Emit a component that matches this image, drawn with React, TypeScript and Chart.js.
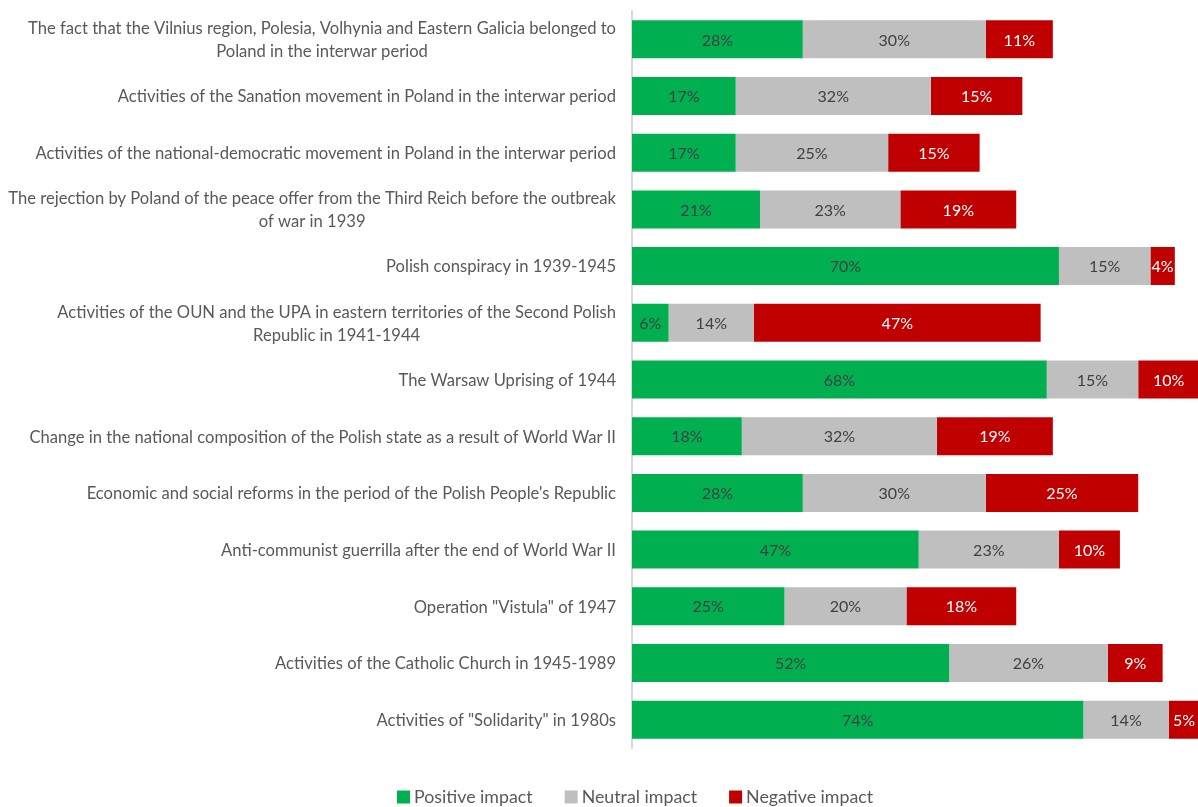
import React, { useEffect, useRef } from "react";
import { Chart, registerables } from "chart.js";

Chart.register(...registerables);

const categories: (string | string[])[] = [
  ["The fact that the Vilnius region, Polesia, Volhynia and Eastern Galicia belonged to", "Poland in the interwar period"],
  "Activities of the Sanation movement in Poland in the interwar period",
  "Activities of the national-democratic movement in Poland in the interwar period",
  ["The rejection by Poland of the peace offer from the Third Reich before the outbreak", "of war in 1939"],
  "Polish conspiracy in 1939-1945",
  ["Activities of the OUN and the UPA in eastern territories of the Second Polish", "Republic in 1941-1944"],
  "The Warsaw Uprising of 1944",
  "Change in the national composition of the Polish state as a result of World War II",
  "Economic and social reforms in the period of the Polish People's Republic",
  "Anti-communist guerrilla after the end of World War II",
  "Operation \"Vistula\" of 1947",
  "Activities of the Catholic Church in 1945-1989",
  "Activities of \"Solidarity\" in 1980s",
];

const positiveImpact = [28, 17, 17, 21, 70, 6, 68, 18, 28, 47, 25, 52, 74];
const neutralImpact = [30, 32, 25, 23, 15, 14, 15, 32, 30, 23, 20, 26, 14];
const negativeImpact = [11, 15, 15, 19, 4, 47, 10, 19, 25, 10, 18, 9, 5];

const seriesNames = ["Positive impact", "Neutral impact", "Negative impact"];
const seriesColors = ["#00B050", "#BFBFBF", "#C00000"];

const FONT = "Lato, 'Open Sans', sans-serif";

const categoryLabelsPlugin = {
  id: "categoryLabels",
  afterDraw(chart: any) {
    const ctx = chart.ctx;
    const yScale = chart.scales.y;
    const rightX = 616;
    const lineHeight = 23;
    ctx.save();
    ctx.font = `16.6px ${FONT}`;
    ctx.fillStyle = "#595959";
    ctx.textBaseline = "middle";
    categories.forEach((label, i) => {
      const y = yScale.getPixelForValue(i) + 1;
      const lines = Array.isArray(label) ? label : [label];
      const widths = lines.map((l) => ctx.measureText(l).width);
      const blockW = Math.max(...widths);
      lines.forEach((line, j) => {
        const ty = y + (j - (lines.length - 1) / 2) * lineHeight;
        if (lines.length === 1) {
          ctx.textAlign = "right";
          ctx.fillText(line, rightX, ty);
        } else {
          ctx.textAlign = "center";
          ctx.fillText(line, rightX - blockW / 2, ty);
        }
      });
    });
    ctx.restore();
  },
};

const valueLabelsPlugin = {
  id: "valueLabels",
  afterDatasetsDraw(chart: any) {
    const ctx = chart.ctx;
    const area = chart.chartArea;
    ctx.save();
    ctx.beginPath();
    ctx.rect(area.left, area.top, area.right - area.left + 20, area.bottom - area.top);
    ctx.clip();
    ctx.font = `16px ${FONT}`;
    ctx.textAlign = "center";
    ctx.textBaseline = "middle";
    chart.data.datasets.forEach((ds: any, di: number) => {
      const meta = chart.getDatasetMeta(di);
      ctx.fillStyle = di === 2 ? "#FFFFFF" : "#404040";
      meta.data.forEach((bar: any, i: number) => {
        const { x, base, y } = bar.getProps(["x", "base", "y"], true);
        const v = ds.data[i];
        ctx.fillText(`${v}%`, (x + base) / 2, y + 1);
      });
    });
    ctx.restore();
  },
};

const customLegendPlugin = {
  id: "customLegend",
  afterDraw(chart: any) {
    const ctx = chart.ctx;
    const y = 797;
    let x = 397;
    ctx.save();
    ctx.font = `17.8px ${FONT}`;
    ctx.textBaseline = "middle";
    ctx.textAlign = "left";
    chart.data.datasets.forEach((ds: any) => {
      ctx.fillStyle = ds.backgroundColor;
      ctx.fillRect(x, y - 6.5, 13, 13);
      ctx.fillStyle = "#595959";
      ctx.fillText(ds.label, x + 17, y);
      x += 17 + ctx.measureText(ds.label).width + 32;
    });
    ctx.restore();
  },
};

export default function App() {
  const canvasRef = useRef<HTMLCanvasElement | null>(null);

  useEffect(() => {
    document.body.style.margin = "0";
    const canvas = canvasRef.current;
    if (!canvas) return;
    const chart = new Chart(canvas, {
      type: "bar",
      data: {
        labels: categories as any,
        datasets: [
          { label: seriesNames[0], data: positiveImpact, backgroundColor: seriesColors[0] },
          { label: seriesNames[1], data: neutralImpact, backgroundColor: seriesColors[1] },
          { label: seriesNames[2], data: negativeImpact, backgroundColor: seriesColors[2] },
        ],
      },
      options: {
        indexAxis: "y",
        animation: false,
        responsive: true,
        maintainAspectRatio: false,
        layout: { padding: { top: 11, right: 0, left: 0, bottom: 59 } },
        datasets: {
          bar: { barPercentage: 0.67, categoryPercentage: 1, borderWidth: 0 },
        } as any,
        scales: {
          x: {
            stacked: true,
            display: false,
            min: 0,
            max: 92.8,
          },
          y: {
            stacked: true,
            grid: { display: false },
            border: { display: true, color: "#D9D9D9", width: 2 },
            ticks: { display: false },
            afterFit: (scale: any) => {
              scale.width = 632;
            },
          },
        },
        plugins: {
          legend: { display: false },
          tooltip: { enabled: false },
        },
      },
      plugins: [categoryLabelsPlugin, valueLabelsPlugin, customLegendPlugin],
    });
    return () => chart.destroy();
  }, []);

  return (
    <div style={{ position: "absolute", left: 0, top: 0, width: 1198, height: 807 }}>
      <canvas ref={canvasRef} />
    </div>
  );
}
